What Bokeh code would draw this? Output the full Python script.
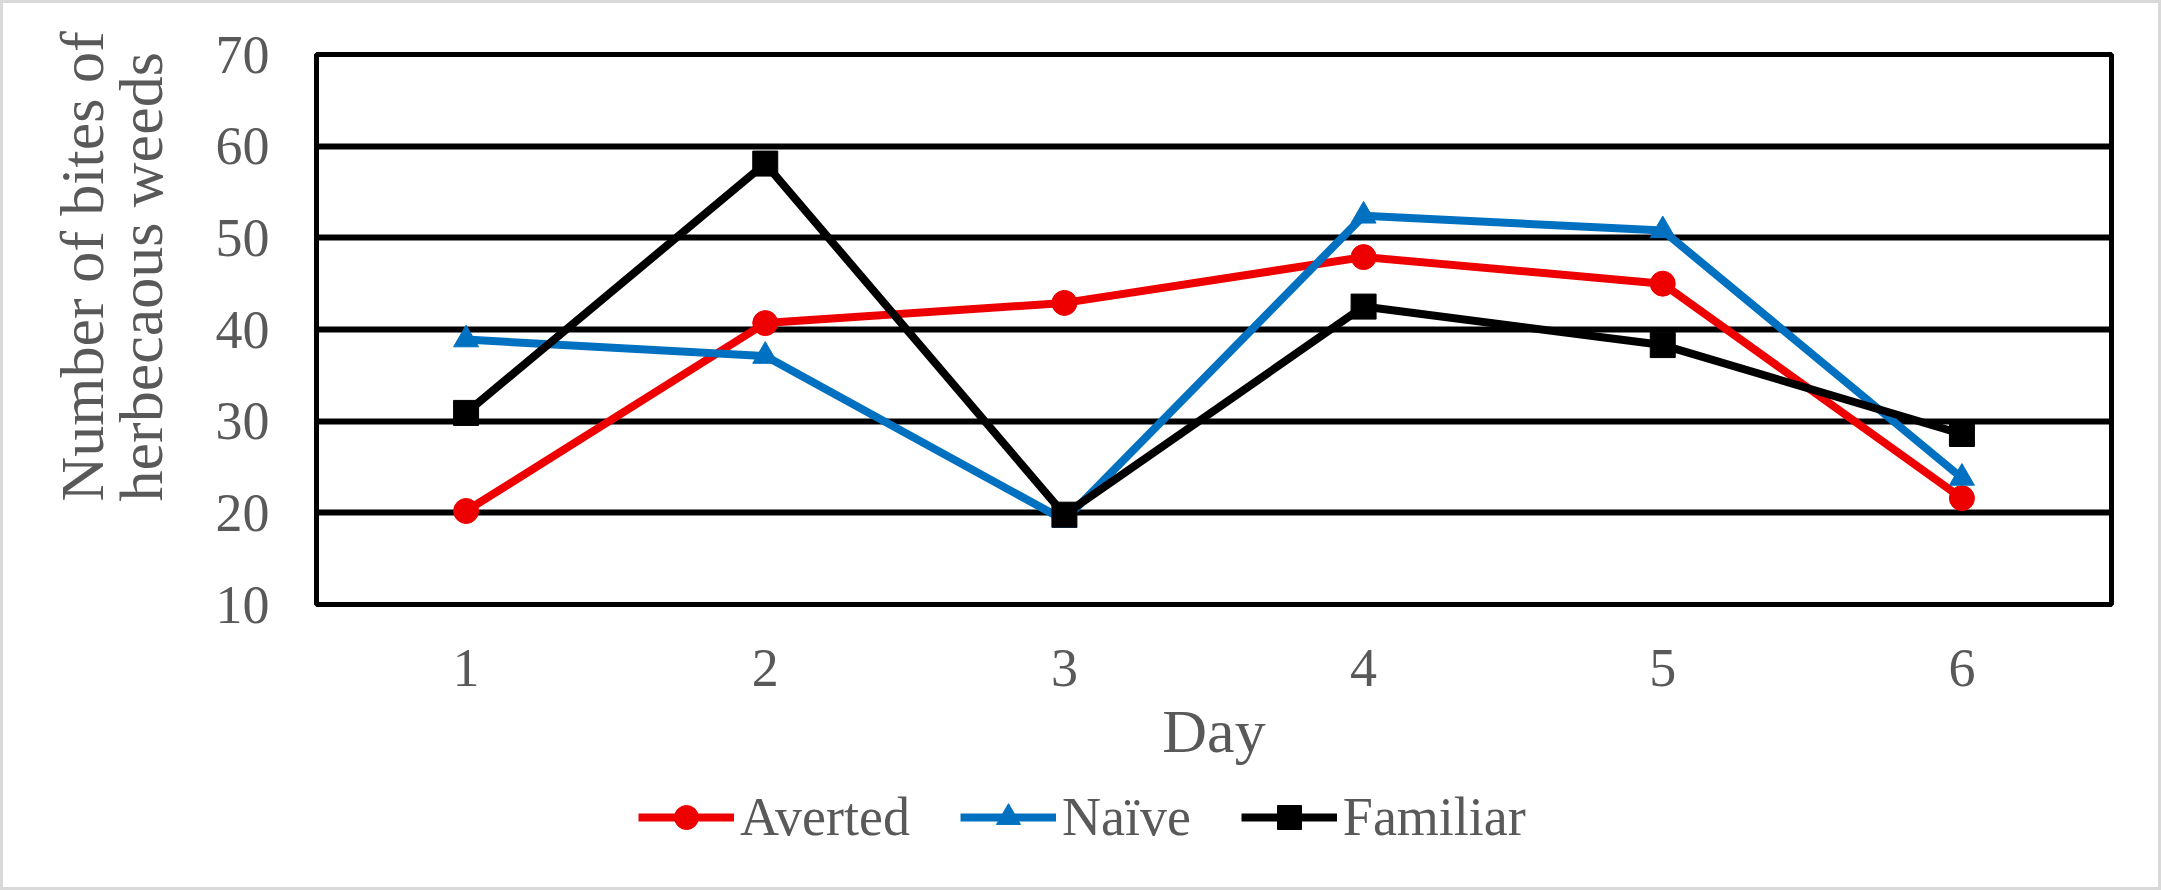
from bokeh.plotting import figure
from bokeh.layouts import column
from bokeh.models import Range1d, FixedTicker, Legend, LegendItem, Title
from bokeh.embed import file_html
from bokeh.resources import INLINE

days = [1, 2, 3, 4, 5, 6]
day_labels = ["1", "2", "3", "4", "5", "6"]
averted = [20.2, 40.7, 42.9, 47.9, 45.0, 21.6]
naive = [38.9, 37.1, 19.2, 52.4, 50.8, 23.8]
familiar = [30.9, 58.1, 19.8, 42.5, 38.3, 28.6]
y_ticks = [10, 20, 30, 40, 50, 60, 70]
y_title = "Number of bites of\nherbecaous weeds"
x_title = "Day"

FONT = "Liberation Serif"
GREY = "#595959"
W = 2155

p = figure(width=W, height=777, x_range=Range1d(0.5, 6.5), y_range=Range1d(10, 70),
           output_backend="svg", toolbar_location=None,
           min_border_left=313, min_border_right=47, min_border_top=51, min_border_bottom=176)

series = [("Averted", averted, "#ee0000", "circle"),
          ("Naïve", naive, "#0070c0", "triangle"),
          ("Familiar", familiar, "#000000", "square")]
for name, vals, col, mk in series:
    p.line(days, vals, line_color=col, line_width=8)
    p.scatter(days, vals, marker=mk, size=25, fill_color=col, line_color=col)

p.xaxis.ticker = FixedTicker(ticks=days)
p.xaxis.major_label_overrides = {d: t for d, t in zip(days, day_labels)}
p.yaxis.ticker = FixedTicker(ticks=y_ticks)
for ax in (p.xaxis, p.yaxis):
    ax.axis_line_color = None
    ax.major_tick_line_color = None
    ax.minor_tick_line_color = None
    ax.major_label_text_font = FONT
    ax.major_label_text_font_size = "54px"
    ax.major_label_text_color = GREY
    ax.axis_label_text_font = FONT
    ax.axis_label_text_font_size = "62px"
    ax.axis_label_text_color = GREY
    ax.axis_label_text_font_style = "normal"

p.xaxis.axis_label = x_title
p.xaxis.major_label_standoff = 39
p.xaxis.axis_label_standoff = 8
p.yaxis.major_label_standoff = 41

t = Title(text=y_title, align="left", offset=103, standoff=74,
          text_font=FONT, text_font_size="62px", text_color=GREY,
          text_font_style="normal", text_line_height=0.87)
p.add_layout(t, "left")

p.xgrid.visible = False
p.ygrid.grid_line_color = "black"
p.ygrid.grid_line_width = 6
p.outline_line_color = "black"
p.outline_line_width = 5
p.background_fill_color = "white"
p.border_fill_color = "white"

# legend strip: swatch renderers carry only styles (a single NaN point, nothing drawn)
nan = float("nan")
lp = figure(width=W, height=107, x_range=Range1d(0, 1), y_range=Range1d(0, 1),
            output_backend="svg", toolbar_location=None,
            x_axis_type=None, y_axis_type=None,
            min_border_left=0, min_border_right=0, min_border_top=0, min_border_bottom=0)
lp.outline_line_color = None
lp.background_fill_color = "white"
lp.border_fill_color = "white"
items = []
for name, vals, col, mk in series:
    l = lp.line(x=[nan], y=[nan], line_color=col, line_width=8)
    s = lp.scatter(x=[nan], y=[nan], marker=mk, size=25, fill_color=col, line_color=col)
    items.append(LegendItem(label=name, renderers=[l, s]))

legend = Legend(items=items, location=(322, 39), orientation="horizontal",
                label_text_font=FONT, label_text_font_size="54px", label_text_color=GREY,
                glyph_width=96, glyph_height=60, label_standoff=6, spacing=50,
                padding=0, margin=0, border_line_color=None, background_fill_alpha=0)
lp.add_layout(legend, "center")

layout = column(p, lp, spacing=0)
layout.styles = {"border": "3px solid #d9d9d9", "background-color": "white"}

open("out.html", "w").write(file_html(layout, INLINE))
